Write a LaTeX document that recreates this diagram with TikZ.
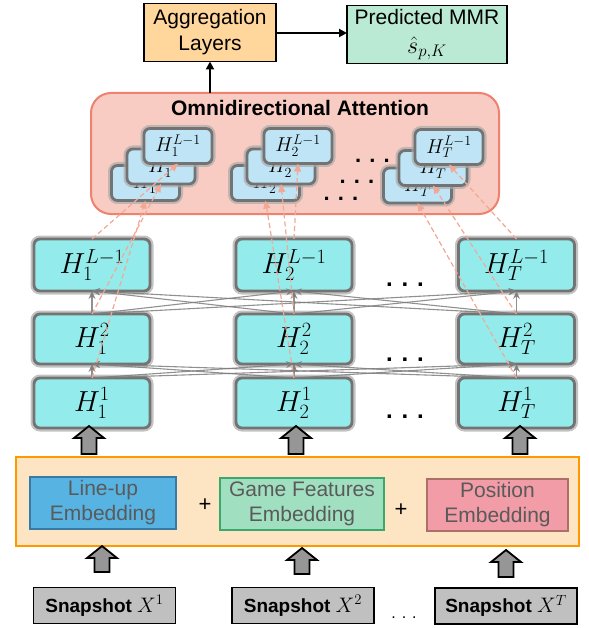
\RequirePackage{fix-cm}
\documentclass[tikz,border=0pt]{standalone}
\usepackage[no-math]{fontspec}
\setmainfont{Liberation Sans}
\usetikzlibrary{arrows.meta,calc}
\definecolor{aggfill}{RGB}{255,214,155}
\definecolor{predfill}{RGB}{186,234,211}
\definecolor{attfill}{RGB}{248,204,194}
\definecolor{attdraw}{RGB}{238,130,110}
\definecolor{stackfill}{RGB}{190,228,245}
\definecolor{cyanfill}{RGB}{147,236,235}
\definecolor{boxgray}{RGB}{115,115,115}
\definecolor{glowgray}{RGB}{170,170,170}
\definecolor{embfill}{RGB}{253,229,196}
\definecolor{embdraw}{RGB}{255,153,0}
\definecolor{lineupfill}{RGB}{86,179,226}
\definecolor{lineupdraw}{RGB}{56,122,165}
\definecolor{gamefill}{RGB}{160,224,192}
\definecolor{gamedraw}{RGB}{58,168,108}
\definecolor{posfill}{RGB}{241,156,166}
\definecolor{posdraw}{RGB}{172,112,104}
\definecolor{embtext}{RGB}{90,90,90}
\definecolor{snapfill}{RGB}{192,192,192}
\definecolor{dashpink}{RGB}{242,168,148}
\definecolor{arrgray}{RGB}{125,125,125}
\definecolor{blockfill}{RGB}{150,150,150}
\newcommand{\blockup}[2]{\draw[blockarrow] let \p1=(#1), \p2=(#2) in
  (\x1-7.5pt,\y1) -- (\x1-7.5pt,\y2-12pt) -- (\x1-15pt,\y2-12pt) -- (\x2,\y2)
  -- (\x1+15pt,\y2-12pt) -- (\x1+7.5pt,\y2-12pt) -- (\x1+7.5pt,\y1) -- cycle;}
\begin{document}
\begin{tikzpicture}[x=1pt,y=-1pt,
  every node/.style={inner sep=0pt,outer sep=0pt,align=center},
  glow/.style={rounded corners=6pt,draw=boxgray,line width=2.8pt,
    preaction={draw=glowgray,line width=7pt,opacity=0.7}},
  cyanbox/.style={glow,fill=cyanfill,minimum width=116pt,minimum height=50pt,
    font=\fontsize{29pt}{33pt}\selectfont},
  stackbox/.style={glow,fill=stackfill,minimum width=68pt,minimum height=35pt,
    font=\fontsize{20pt}{24pt}\selectfont},
  topbox/.style={draw=black,line width=1.8pt,minimum height=58pt,
    font=\fontsize{21pt}{26pt}\selectfont},
  embbox/.style={line width=2pt,minimum height=52pt,text=embtext,
    font=\fontsize{21pt}{25pt}\selectfont},
  snapbox/.style={fill=snapfill,draw=black,line width=1.8pt,minimum width=142pt,
    minimum height=36pt,font=\fontsize{19pt}{22pt}\selectfont},
  blackarr/.style={draw=black,line width=2pt,-{Triangle[length=8pt,width=8pt]}},
  grayarr/.style={draw=arrgray,line width=1.1pt,opacity=0.85,
    -{Stealth[length=8pt,width=7pt]}},
  pinkdash/.style={draw=dashpink,line width=1.2pt,dash pattern=on 5pt off 3pt,
    -{Triangle[length=8pt,width=7pt]}},
  blockarrow/.style={draw=black,fill=blockfill,line width=1.8pt,line join=miter},
  bigdots/.style={font=\fontsize{22pt}{22pt}\selectfont\bfseries},
  griddots/.style={font=\fontsize{24pt}{24pt}\selectfont\bfseries}
]
\useasboundingbox (0,0) rectangle (588,628);
\fill[white] (0,0) rectangle (588,628);

% top boxes
\node[topbox,fill=aggfill,minimum width=132pt] (agg) at (210,32.5) {Aggregation\\Layers};
\node[topbox,fill=predfill,minimum width=160pt] (pred) at (427,34.5) {Predicted MMR\\[3pt]{\fontsize{24pt}{26pt}\selectfont$\hat{s}_{p,K}$}};

% attention block
\node[fill=attfill,draw=attdraw,line width=2pt,rounded corners=20pt,
  minimum width=408pt,minimum height=121pt] (att) at (295,153.5) {};
\node[font=\fontsize{21pt}{25pt}\selectfont\bfseries] (atttitle) at (300,108) {Omnidirectional Attention};

\draw[blackarr] (agg.south |- att.north) -- (agg.south);
\draw[blackarr] (agg.east |- 0,33) -- (pred.west |- 0,33);

% stacks
\node[stackbox] (s1a) at (145.5,183) {$H_1^{1}$};
\node[stackbox] (s2a) at (161,166.5) {$H_1^{2}$};
\node[stackbox] (sLa) at (178,146) {$H_1^{L-1}$};
\node[stackbox] (s1b) at (265.5,183) {$H_2^{1}$};
\node[stackbox] (s2b) at (281,166.5) {$H_2^{2}$};
\node[stackbox] (sLb) at (298,146) {$H_2^{L-1}$};
\node[stackbox] (s1c) at (417.5,185.5) {$H_T^{1}$};
\node[stackbox] (s2c) at (433,168) {$H_T^{2}$};
\node[stackbox] (sLc) at (449,147) {$H_T^{L-1}$};

\node[bigdots] (adots1) at (372.5,161) {. . .};
\node[bigdots] (adots2) at (357,182) {. . .};
\node[bigdots] (adots3) at (341,199) {. . .};

% main grid
\node[cyanbox,minimum height=52pt] (hLa) at (92,265) {$H_1^{L-1}$};
\node[cyanbox,minimum height=52pt] (hLb) at (294,265) {$H_2^{L-1}$};
\node[cyanbox,minimum height=52pt] (hLc) at (516.5,265) {$H_T^{L-1}$};
\node[cyanbox] (h2a) at (92,339) {$H_1^{2}$};
\node[cyanbox] (h2b) at (294,339) {$H_2^{2}$};
\node[cyanbox] (h2c) at (516.5,339) {$H_T^{2}$};
\node[cyanbox] (h1a) at (92,403) {$H_1^{1}$};
\node[cyanbox] (h1b) at (294,403) {$H_2^{1}$};
\node[cyanbox] (h1c) at (516.5,403) {$H_T^{1}$};

\node[griddots] (gdots1) at (405,285) {. . .};
\node[griddots] (gdots2) at (405,360) {. . .};
\node[griddots] (gdots3) at (405,417) {. . .};

% full connections between layers
\foreach \i in {a,b,c}{
  \foreach \j in {a,b,c}{
    \draw[grayarr] (h2\i.north) -- (hL\j.south);
    \draw[grayarr] (h1\i.north) -- (h2\j.south);
  }
}

% dashed arrows into the attention stacks
\foreach \c in {a,b,c}{
  \draw[pinkdash] (h1\c.north) -- (s1\c.south);
  \draw[pinkdash] (h2\c.north) -- (s2\c.south);
  \draw[pinkdash] (hL\c.north) -- (sL\c.south);
}

% embedding block
\node[fill=embfill,draw=embdraw,line width=2pt,minimum width=563pt,minimum height=89pt] (emb) at (297.5,501.5) {};
\node[embbox,fill=lineupfill,draw=lineupdraw,minimum width=146pt] (lineup) at (103,502.5) {Line-up\\Embedding};
\node[embbox,fill=gamefill,draw=gamedraw,minimum width=164pt] (game) at (302,503.5) {Game Features\\Embedding};
\node[embbox,fill=posfill,draw=posdraw,minimum width=141pt] (pos) at (497.5,504.5) {Position\\Embedding};
\node[font=\fontsize{22pt}{22pt}\selectfont] (plus1) at (205,505) {+};
\node[font=\fontsize{22pt}{22pt}\selectfont] (plus2) at (401,510) {+};

% snapshots
\node[snapbox] (x1) at (104.5,605.5) {\textbf{Snapshot} {\fontsize{21pt}{22pt}\selectfont$X^1$}};
\node[snapbox] (x2) at (303,605.5) {\textbf{Snapshot} {\fontsize{21pt}{22pt}\selectfont$X^2$}};
\node[snapbox] (xT) at (506,606) {\textbf{Snapshot} {\fontsize{21pt}{22pt}\selectfont$X^T$}};
\node[font=\fontsize{16pt}{16pt}\selectfont] (sdots) at (404,618) {. . .};

% block arrows
\coordinate (ua1) at (89,454);  \coordinate (ut1) at (89,426);
\coordinate (ua2) at (296,454); \coordinate (ut2) at (296,426);
\coordinate (ua3) at (520,454); \coordinate (ut3) at (520,426);
\coordinate (la1) at (102,572); \coordinate (lt1) at (102,546);
\coordinate (la2) at (302,574); \coordinate (lt2) at (302,548);
\coordinate (la3) at (506,577); \coordinate (lt3) at (506,550);
\blockup{ua1}{ut1}
\blockup{ua2}{ut2}
\blockup{ua3}{ut3}
\blockup{la1}{lt1}
\blockup{la2}{lt2}
\blockup{la3}{lt3}
\end{tikzpicture}
\end{document}
